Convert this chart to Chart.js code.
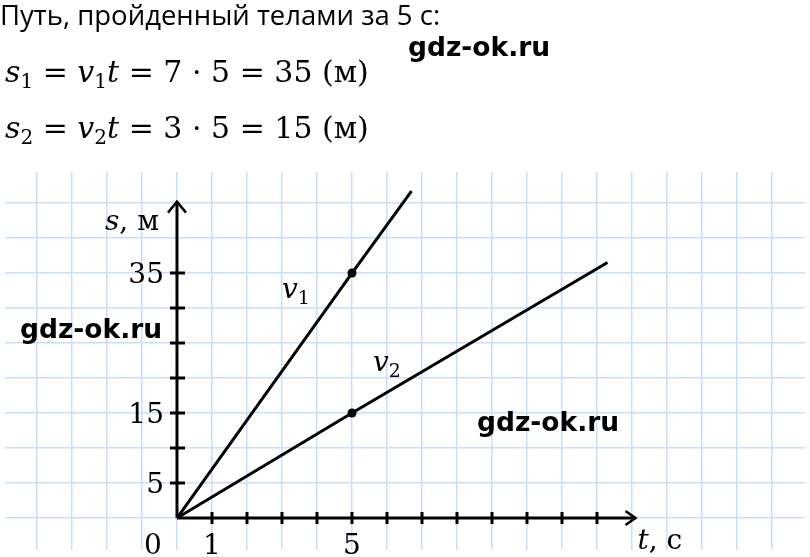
<!DOCTYPE html>
<html>
<head>
<meta charset="utf-8">
<script src="https://cdn.jsdelivr.net/npm/chart.js@4"></script>
<style>
  html, body { margin: 0; padding: 0; background: #fff; }
  body { width: 810px; height: 557px; position: relative; overflow: hidden; }
  #chart { position: absolute; left: 0; top: 0; }
  .txt { position: absolute; white-space: nowrap; line-height: 1; color: #000; }
  .head { font-family: 'Open Sans', sans-serif; font-size: 27.5px; left: 0; top: 1px; }
  .formula { font-family: 'DejaVu Serif', serif; font-size: 30px; left: 5px; }
  .formula i { font-style: italic; }
  .formula sub { font-size: 20px; vertical-align: -6px; line-height: 0; }
  .wm { font-family: 'DejaVu Sans', sans-serif; font-weight: bold; font-size: 26.5px; }
</style>
</head>
<body>
<canvas id="chart" width="810" height="557"></canvas>

<div class="txt head">Путь, пройденный телами за 5 с:</div>
<div class="txt formula" style="top:57px"><i>s</i><sub>1</sub> = <i>v</i><sub>1</sub><i>t</i> = 7 · 5 = 35 (м)</div>
<div class="txt formula" style="top:113px"><i>s</i><sub>2</sub> = <i>v</i><sub>2</sub><i>t</i> = 3 · 5 = 15 (м)</div>
<div class="txt wm" style="left:408px; top:34px">gdz-ok.ru</div>
<div class="txt wm" style="left:20px; top:316px">gdz-ok.ru</div>
<div class="txt wm" style="left:477px; top:409px">gdz-ok.ru</div>

<script>
// data
const v1Times = [0, 5, 6.7];
const v1Path = [0, 35, 46.7];
const v2Times = [0, 5, 12.3];
const v2Path = [0, 15, 36.5];
const dotRadius = [0, 4.5, 0];

const xTicks = [1, 2, 3, 4, 5, 6, 7, 8, 9, 10, 11, 12];
const xLabels = ['1', '5'];
const yTicks = [5, 10, 15, 20, 25, 30, 35];
const yLabels = ['5', '15', '35'];

// grid of the squared paper
const xGrid = [-4, -3, -2, -1, 0, 1, 2, 3, 4, 5, 6, 7, 8, 9, 10, 11, 12, 13, 14, 15, 16, 17];
const yGrid = [0, 5, 10, 15, 20, 25, 30, 35, 40, 45];

const xAxisEnd = 13.1;
const yAxisEnd = 45.2;

const gridColor = '#c9defa';

const axesPlugin = {
  id: 'axes',
  beforeDatasetsDraw(chart) {
    const ctx = chart.ctx;
    const x = chart.scales.x;
    const y = chart.scales.y;
    const x0 = x.getPixelForValue(0);
    const y0 = y.getPixelForValue(0);
    const xe = x.getPixelForValue(xAxisEnd);
    const ye = y.getPixelForValue(yAxisEnd);

    ctx.save();
    ctx.strokeStyle = '#000';
    ctx.lineWidth = 3;
    ctx.lineCap = 'butt';
    ctx.beginPath();
    ctx.moveTo(x0, y0);
    ctx.lineTo(xe, y0);
    ctx.moveTo(x0, y0);
    ctx.lineTo(x0, ye);
    ctx.stroke();

    // arrows
    ctx.lineWidth = 2.5;
    ctx.lineJoin = 'miter';
    ctx.beginPath();
    ctx.moveTo(xe - 10, y0 - 7);
    ctx.lineTo(xe, y0);
    ctx.lineTo(xe - 10, y0 + 7);
    ctx.moveTo(x0 - 9, ye + 11);
    ctx.lineTo(x0, ye);
    ctx.lineTo(x0 + 9, ye + 11);
    ctx.stroke();

    // ticks
    ctx.lineWidth = 3;
    ctx.beginPath();
    xTicks.forEach(v => {
      const px = x.getPixelForValue(v);
      ctx.moveTo(px, y0 - 6);
      ctx.lineTo(px, y0 + 6);
    });
    yTicks.forEach(v => {
      const py = y.getPixelForValue(v);
      ctx.moveTo(x0 - 7, py);
      ctx.lineTo(x0 + 8, py);
    });
    ctx.stroke();

    // labels
    ctx.fillStyle = '#000';
    ctx.font = "28px 'DejaVu Serif', serif";
    ctx.textBaseline = 'alphabetic';
    ctx.textAlign = 'right';
    yLabels.forEach(l => {
      ctx.fillText(l, x0 - 13, y.getPixelForValue(+l) + 10);
    });
    ctx.textAlign = 'center';
    ctx.fillText('0', x0 - 24, y0 + 36);
    xLabels.forEach(l => {
      ctx.fillText(l, x.getPixelForValue(+l), y0 + 36);
    });

    ctx.textAlign = 'left';
    ctx.font = "italic 28px 'DejaVu Serif', serif";
    ctx.fillText('s', x0 - 72, ye + 28);
    ctx.fillText('t', xe + 2, y0 + 31);
    ctx.fillText('v', x.getPixelForValue(3), y.getPixelForValue(31.5));
    ctx.fillText('v', x.getPixelForValue(5.6), y.getPixelForValue(21));
    let w = ctx.measureText('s').width;
    let wt = ctx.measureText('t').width;
    let wv = ctx.measureText('v').width;
    ctx.font = "28px 'DejaVu Serif', serif";
    ctx.fillText(', м', x0 - 72 + w, ye + 28);
    ctx.fillText(', с', xe + 2 + wt, y0 + 31);
    ctx.font = "19px 'DejaVu Serif', serif";
    ctx.fillText('1', x.getPixelForValue(3) + wv, y.getPixelForValue(31.5) + 6);
    ctx.fillText('2', x.getPixelForValue(5.6) + wv, y.getPixelForValue(21) + 6);
    ctx.restore();
  }
};

const lineStyle = {
  showLine: true,
  borderColor: '#000',
  borderWidth: 3,
  pointBackgroundColor: '#000',
  pointBorderWidth: 0,
  pointRadius: dotRadius,
  tension: 0,
  clip: false
};

new Chart(document.getElementById('chart'), {
  type: 'scatter',
  data: {
    datasets: [
      Object.assign({ label: 'v1', data: v1Times.map((t, i) => ({ x: t, y: v1Path[i] })) }, lineStyle),
      Object.assign({ label: 'v2', data: v2Times.map((t, i) => ({ x: t, y: v2Path[i] })) }, lineStyle)
    ]
  },
  options: {
    responsive: false,
    animation: false,
    events: [],
    layout: { padding: { left: 5, right: 5, top: 172, bottom: 7 } },
    plugins: { legend: { display: false }, tooltip: { enabled: false } },
    scales: {
      x: {
        type: 'linear',
        min: -4.914,
        max: 17.943,
        border: { display: false },
        ticks: { display: false },
        grid: { color: gridColor, lineWidth: 1.5, drawTicks: false },
        afterBuildTicks: s => { s.ticks = xGrid.map(v => ({ value: v })); }
      },
      y: {
        type: 'linear',
        min: -4.571,
        max: 49.43,
        border: { display: false },
        ticks: { display: false },
        grid: { color: gridColor, lineWidth: 1.5, drawTicks: false },
        afterBuildTicks: s => { s.ticks = yGrid.map(v => ({ value: v })); }
      }
    }
  },
  plugins: [axesPlugin]
});
</script>
</body>
</html>
